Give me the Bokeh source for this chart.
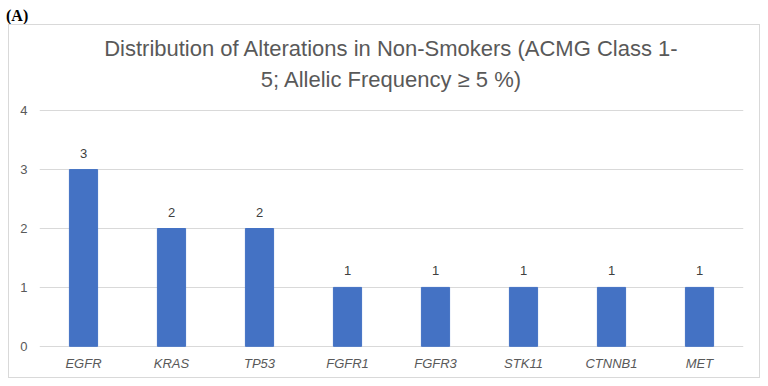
from bokeh.plotting import figure
from bokeh.models import ColumnDataSource, LabelSet, Title, Div, FixedTicker, Range1d
from bokeh.core.properties import value
from bokeh.layouts import column
from bokeh.embed import file_html
from bokeh.resources import INLINE

genes = ["EGFR", "KRAS", "TP53", "FGFR1", "FGFR3", "STK11", "CTNNB1", "MET"]
counts = [3, 2, 2, 1, 1, 1, 1, 1]
y_ticks = [0, 1, 2, 3, 4]
title_line1 = "Distribution of Alterations in Non-Smokers (ACMG Class 1-"
title_line2 = "5; Allelic Frequency \u2265 5 %)"
panel_tag = "(A)"

src = ColumnDataSource(dict(gene=genes, count=counts, lab=[str(c) for c in counts]))

p = figure(x_range=genes, y_range=Range1d(-0.02, 4.02), width=752, height=354,
           output_backend="svg", toolbar_location=None,
           min_border_left=30, min_border_right=18, min_border_top=84, min_border_bottom=32,
           margin=(0, 0, 0, 8), styles={"border": "1px solid #d9d9d9"})
p.outline_line_color = None
p.vbar(x="gene", top="count", width=0.32, source=src, fill_color="#4472C4", line_color="#4472C4")

p.yaxis.ticker = FixedTicker(ticks=y_ticks)
for ax in (p.xaxis[0], p.yaxis[0]):
    ax.axis_line_color = None
    ax.major_tick_line_color = None
    ax.minor_tick_line_color = None
    ax.major_tick_out = 0
    ax.major_tick_in = 0
    ax.minor_tick_out = 0
    ax.minor_tick_in = 0
    ax.major_label_text_font = "Liberation Sans"
    ax.major_label_text_font_size = "13px"
    ax.major_label_text_color = "#595959"
p.xaxis.major_label_text_font_style = "italic"
p.xaxis.major_label_standoff = 8
p.yaxis.major_label_standoff = 12
p.xgrid.grid_line_color = None
p.ygrid.grid_line_color = "#d9d9d9"
p.ygrid.grid_line_width = 1

labels = LabelSet(x="gene", y="count", text="lab", source=src, y_offset=12,
                  text_align="center", text_baseline="bottom",
                  text_font=value("Liberation Sans"), text_font_size=value("13px"),
                  text_color=value("#404040"))
p.add_layout(labels)

p.add_layout(Title(text=title_line2, align="center", text_font="Liberation Sans",
                   text_font_size="22px", text_color="#595959", text_font_style="normal",
                   standoff=35), "above")
p.add_layout(Title(text=title_line1, align="center", text_font="Liberation Sans",
                   text_font_size="22px", text_color="#595959", text_font_style="normal",
                   standoff=-26), "above")

div = Div(text="<b>" + panel_tag + "</b>", width=768, height=24, margin=(0, 0, 0, 0),
          styles={"font-family": "Liberation Serif", "font-size": "16px", "color": "#000",
                  "padding-left": "6px", "padding-top": "5px"})

layout = column(div, p, margin=(0, 0, 0, 0), spacing=0)
open("out.html", "w").write(file_html(layout, INLINE))
